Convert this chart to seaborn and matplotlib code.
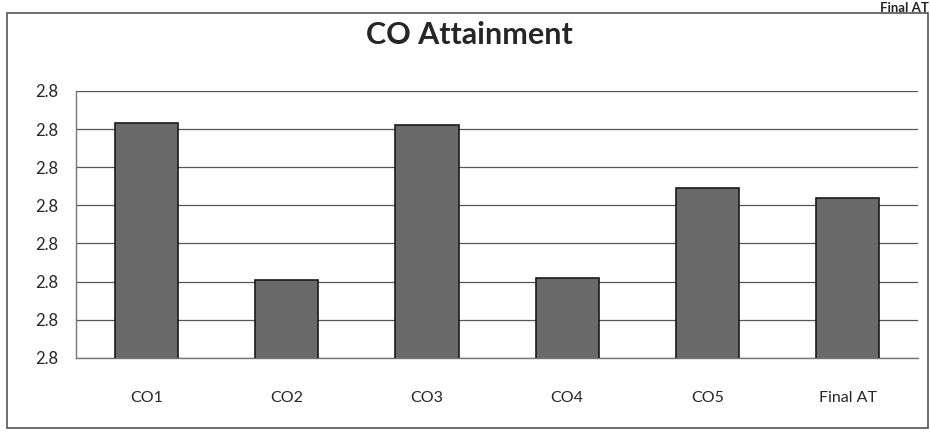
import numpy as np
import pandas as pd
import seaborn as sns
import matplotlib.pyplot as plt
from matplotlib.patches import Rectangle
from matplotlib.ticker import FormatStrFormatter, FixedLocator

categories = ["CO1", "CO2", "CO3", "CO4", "CO5", "Final AT"]
attainment = [2.7923, 2.7841, 2.7922, 2.7842, 2.7889, 2.7884]
y_ticks = [2.780, 2.782, 2.784, 2.786, 2.788, 2.790, 2.792, 2.794]

df = pd.DataFrame({"CO": categories, "Attainment": attainment})

sns.set_style("white")
plt.rcParams["font.family"] = ["Lato", "DejaVu Sans"]

fig = plt.figure(figsize=(9.3, 4.37), dpi=100)
ax = fig.add_axes([0.082, 0.181, 0.905, 0.611])

sns.barplot(data=df, x="CO", y="Attainment", color="#6a6a6a", width=0.45,
            edgecolor="#1a1a1a", linewidth=1.2, saturation=1, ax=ax, zorder=3)

ax.set_ylim(y_ticks[0], y_ticks[-1])
ax.set_xlim(-0.5, len(categories) - 0.5)
ax.yaxis.set_major_locator(FixedLocator(y_ticks))
ax.yaxis.set_major_formatter(FormatStrFormatter("%.1f"))
ax.grid(axis="y", color="#555555", linewidth=0.9, zorder=0)
ax.set_axisbelow(True)

ax.set_xlabel("")
ax.set_ylabel("")
ax.tick_params(axis="x", which="major", length=0, pad=24, labelsize=11.5)
ax.set_xticks(np.arange(-0.5, len(categories)), minor=True)
ax.tick_params(axis="x", which="minor", length=6, color="#777777")
ax.tick_params(axis="y", length=5, color="#777777", labelsize=12, pad=8)

for side in ["top", "right"]:
    ax.spines[side].set_visible(False)
for side in ["left", "bottom"]:
    ax.spines[side].set_color("#777777")
    ax.spines[side].set_linewidth(1.0)

fig.text(0.505, 0.92, "CO Attainment", ha="center", va="center",
         fontsize=22, fontweight="bold")
fig.text(0.999, 0.995, "Final AT", ha="right", va="top", fontsize=9.5,
         fontweight="bold")

fig.add_artist(Rectangle((0.008, 0.02), 0.99, 0.95, transform=fig.transFigure,
                         fill=False, edgecolor="#555555", linewidth=1.2))

fig.savefig("out.png", dpi=100, facecolor="white")
